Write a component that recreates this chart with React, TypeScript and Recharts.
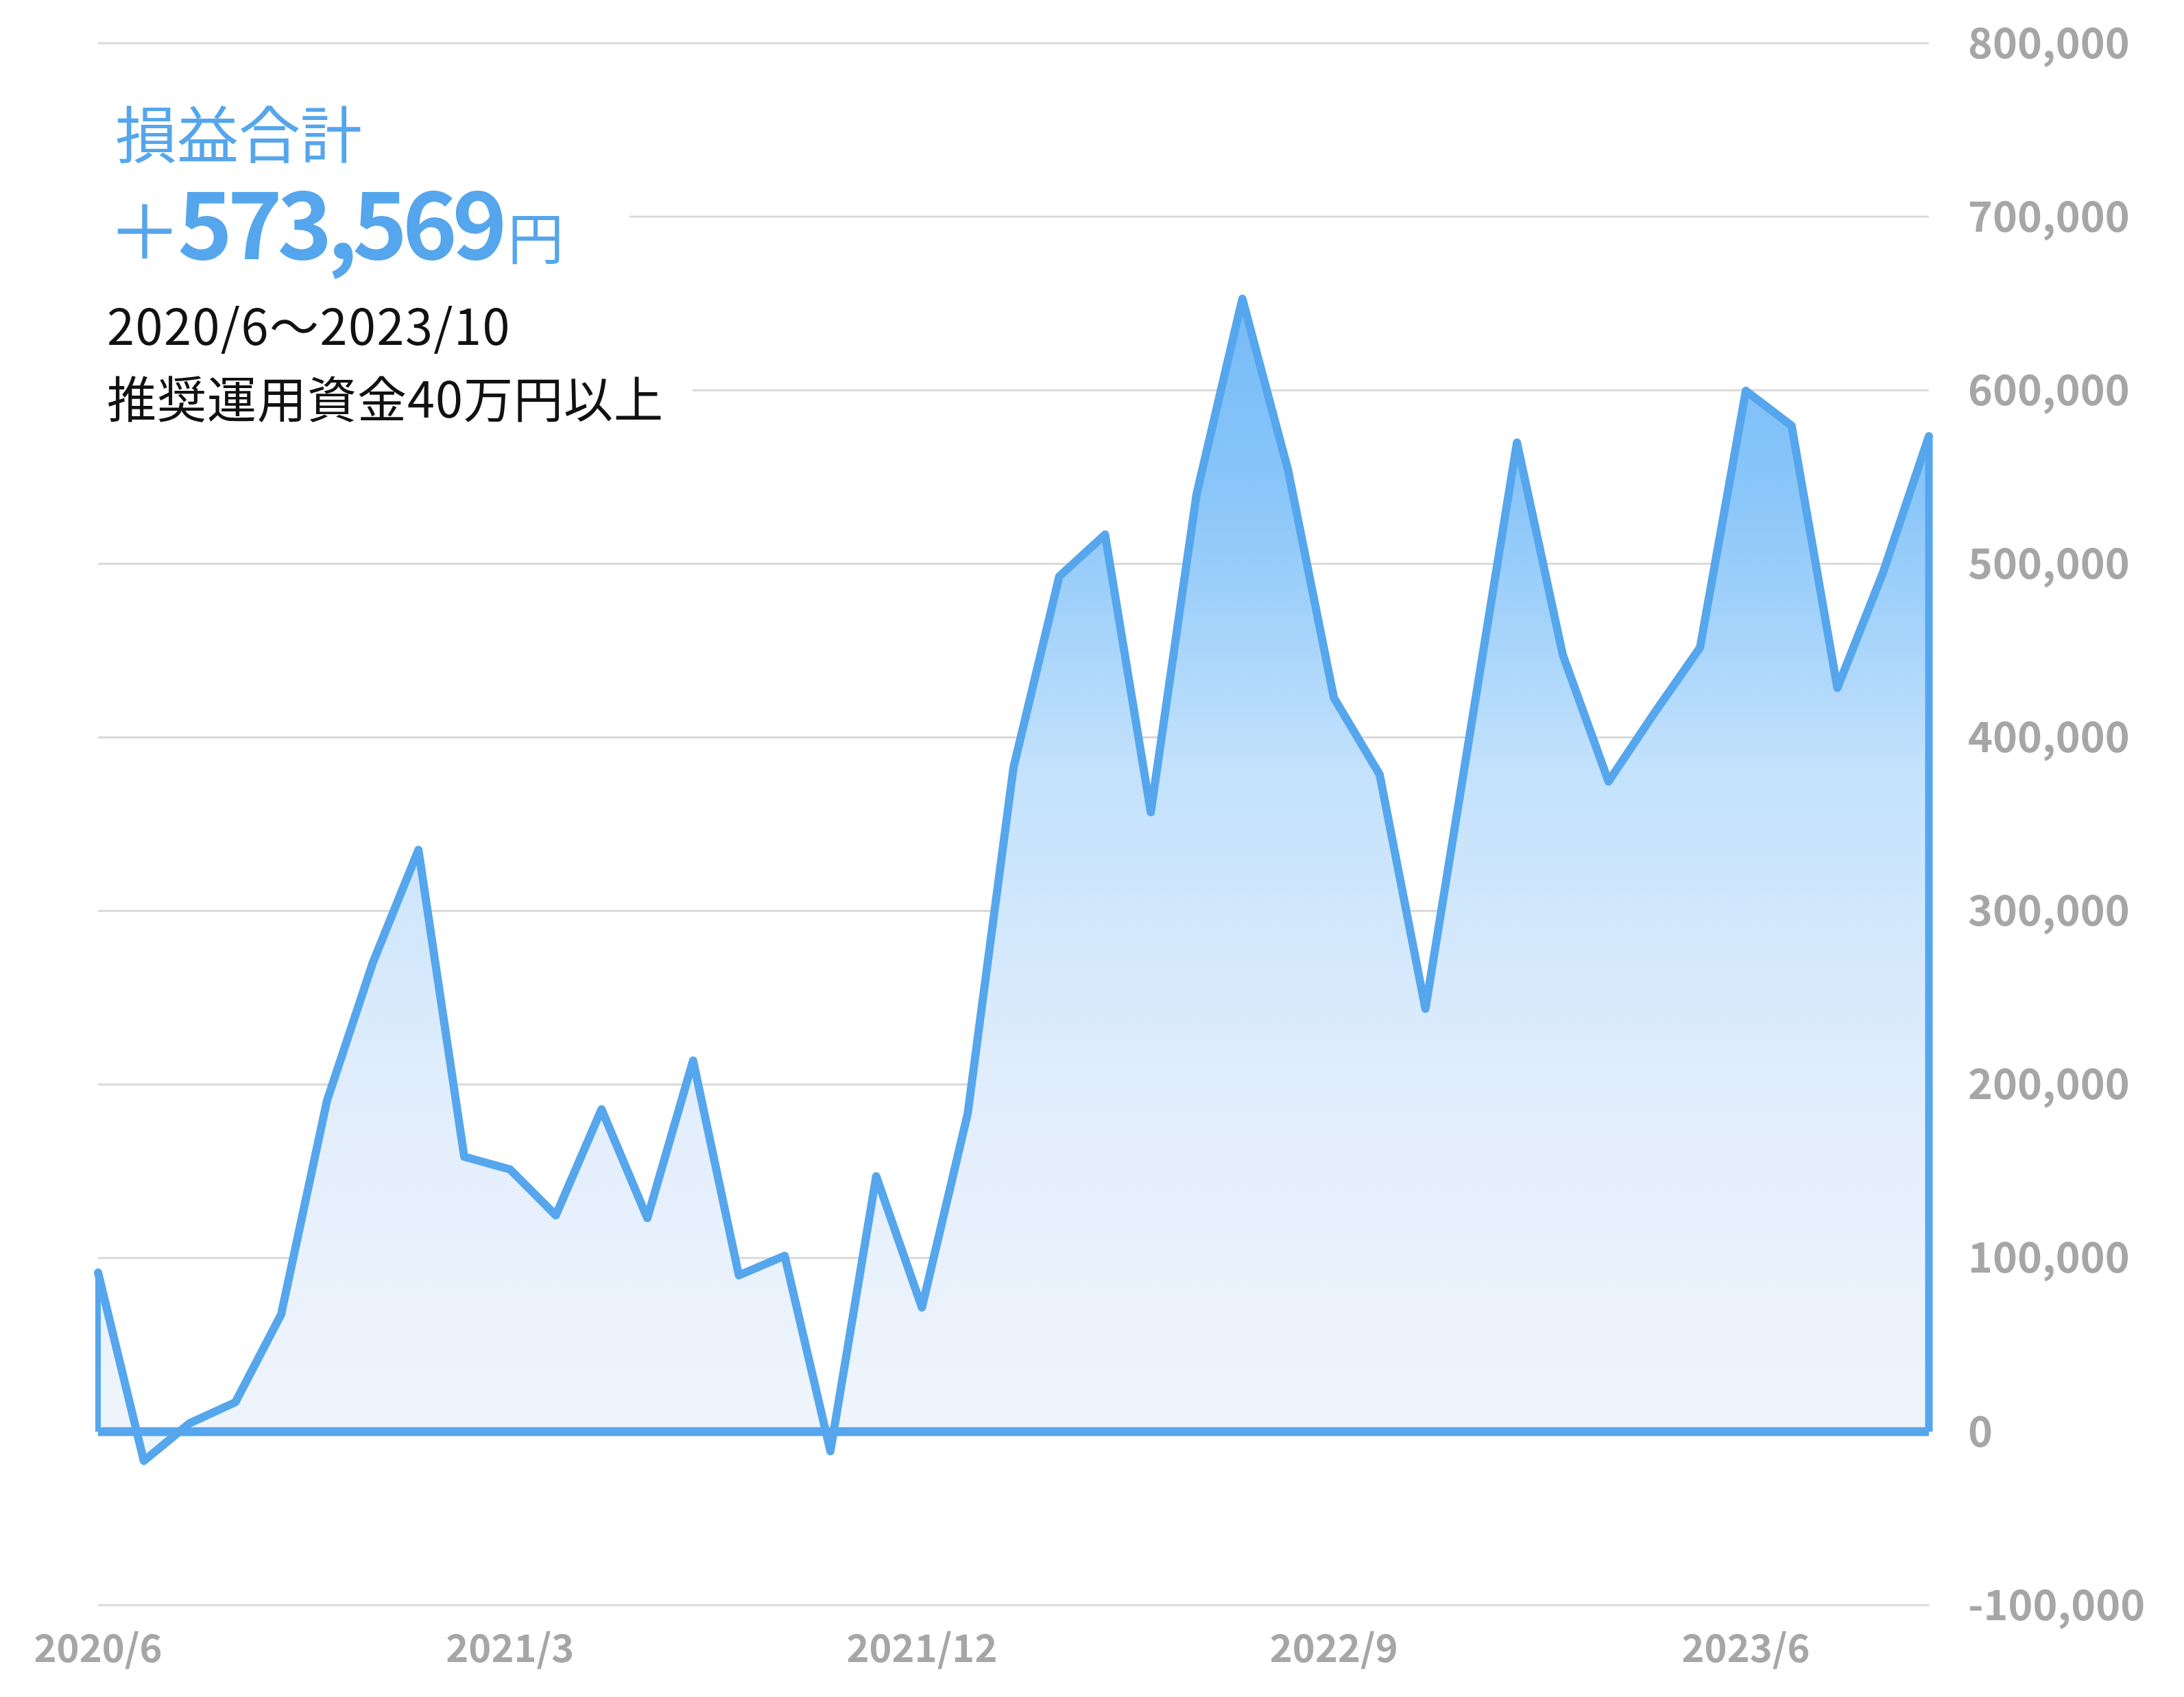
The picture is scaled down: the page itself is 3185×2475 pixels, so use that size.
import { AreaChart, Area, XAxis, YAxis, CartesianGrid, ReferenceLine } from "recharts";

const months = [
  "2020/6", "2020/7", "2020/8", "2020/9", "2020/10", "2020/11", "2020/12",
  "2021/1", "2021/2", "2021/3", "2021/4", "2021/5", "2021/6", "2021/7",
  "2021/8", "2021/9", "2021/10", "2021/11", "2021/12", "2022/1", "2022/2",
  "2022/3", "2022/4", "2022/5", "2022/6", "2022/7", "2022/8", "2022/9",
  "2022/10", "2022/11", "2022/12", "2023/1", "2023/2", "2023/3", "2023/4",
  "2023/5", "2023/6", "2023/7", "2023/8", "2023/9", "2023/10",
];

// 累計損益（円）
const profit = [
  91600, -16900, 4800, 16900, 67500, 190500, 270000, 335200, 158400, 151100,
  124600, 185700, 123000, 213800, 90000, 101300, -11300, 147100, 71500, 183300,
  382600, 492800, 516900, 356900, 540200, 652700, 553900, 422800, 378600, 243600,
  406800, 569900, 447700, 374600, 414000, 451800, 599700, 579600, 428500, 495200,
  573569,
];

const yTicks = [-100000, 0, 100000, 200000, 300000, 400000, 500000, 600000, 700000, 800000];

const chartData = months.map((month, i) => ({ month, profit: profit[i] }));

const font = "'Noto Sans CJK JP', 'Noto Sans', sans-serif";
const blue = "#55a6ec";
const gray = "#a6a6a6";

export default function App() {
  const first = months[0];
  const last = months[months.length - 1];

  return (
    <div
      style={{
        position: "absolute",
        left: 0,
        top: 0,
        width: 3185,
        height: 2475,
        background: "#fff",
        fontFamily: font,
      }}
    >
      <AreaChart
        width={3185}
        height={2475}
        data={chartData}
        margin={{ top: 63, right: 0, bottom: 0, left: 143 }}
      >
        <defs>
          <linearGradient id="pnlFill" x1="0" y1="0" x2="0" y2="1">
            <stop offset="0%" stopColor="#76bbf6" />
            <stop offset="17%" stopColor="#8ac6f9" />
            <stop offset="41%" stopColor="#c4e2fc" />
            <stop offset="70%" stopColor="#e3eefc" />
            <stop offset="100%" stopColor="#f0f5fc" />
          </linearGradient>
        </defs>
        <CartesianGrid vertical={false} stroke="#d9d9d9" strokeWidth={3} />
        <XAxis
          dataKey="month"
          interval={8}
          axisLine={false}
          tickLine={false}
          tickSize={0}
          tickMargin={43}
          height={134}
          tick={{ fill: gray, fontSize: 56, fontWeight: 700, fontFamily: font }}
        />
        <YAxis
          orientation="right"
          domain={[-100000, 800000]}
          ticks={yTicks}
          interval={0}
          width={372}
          axisLine={false}
          tickLine={false}
          tickSize={0}
          tickMargin={57}
          tickFormatter={(v: number) => v.toLocaleString("en-US")}
          tick={{ fill: gray, fontSize: 61, fontWeight: 700, fontFamily: font, textAnchor: "start" }}
        />
        <Area
          type="linear"
          dataKey="profit"
          stroke={blue}
          strokeWidth={12}
          strokeLinejoin="round"
          strokeLinecap="round"
          fill="url(#pnlFill)"
          fillOpacity={1}
          dot={false}
          activeDot={false}
          isAnimationActive={false}
        />
        <ReferenceLine y={0} stroke={blue} strokeWidth={13} />
        <ReferenceLine
          segment={[
            { x: first, y: 0 },
            { x: first, y: profit[0] },
          ]}
          stroke={blue}
          strokeWidth={8}
        />
        <ReferenceLine
          segment={[
            { x: last, y: 0 },
            { x: last, y: profit[profit.length - 1] },
          ]}
          stroke={blue}
          strokeWidth={11}
        />
      </AreaChart>

      <div style={{ position: "absolute", left: 143, top: 240, width: 775, height: 150, background: "#fff" }} />
      <div style={{ position: "absolute", left: 143, top: 530, width: 867, height: 90, background: "#fff" }} />

      <div style={{ position: "absolute", left: 168, top: 146, fontSize: 90, lineHeight: 1, color: blue, fontWeight: 400, whiteSpace: "nowrap" }}>
        損益合計
      </div>
      <div style={{ position: "absolute", left: 157, top: 251, lineHeight: 1, color: blue, whiteSpace: "nowrap" }}>
        <span style={{ display: "inline-block", fontSize: 108, fontWeight: 400, lineHeight: 1, marginRight: -6 }}>＋</span>
        <span style={{ display: "inline-block", fontSize: 136, fontWeight: 700, lineHeight: 1, letterSpacing: -7.5 }}>573,569</span>
        <span style={{ display: "inline-block", fontSize: 82, fontWeight: 400, lineHeight: 1, marginLeft: 8 }}>円</span>
      </div>
      <div style={{ position: "absolute", left: 156, top: 436, fontSize: 72, lineHeight: 1, letterSpacing: 1.5, color: "#111", whiteSpace: "nowrap" }}>
        2020/6〜2023/10
      </div>
      <div style={{ position: "absolute", left: 156, top: 542, fontSize: 72, lineHeight: 1, letterSpacing: 1, color: "#111", whiteSpace: "nowrap" }}>
        推奨運用資金40万円以上
      </div>
    </div>
  );
}
